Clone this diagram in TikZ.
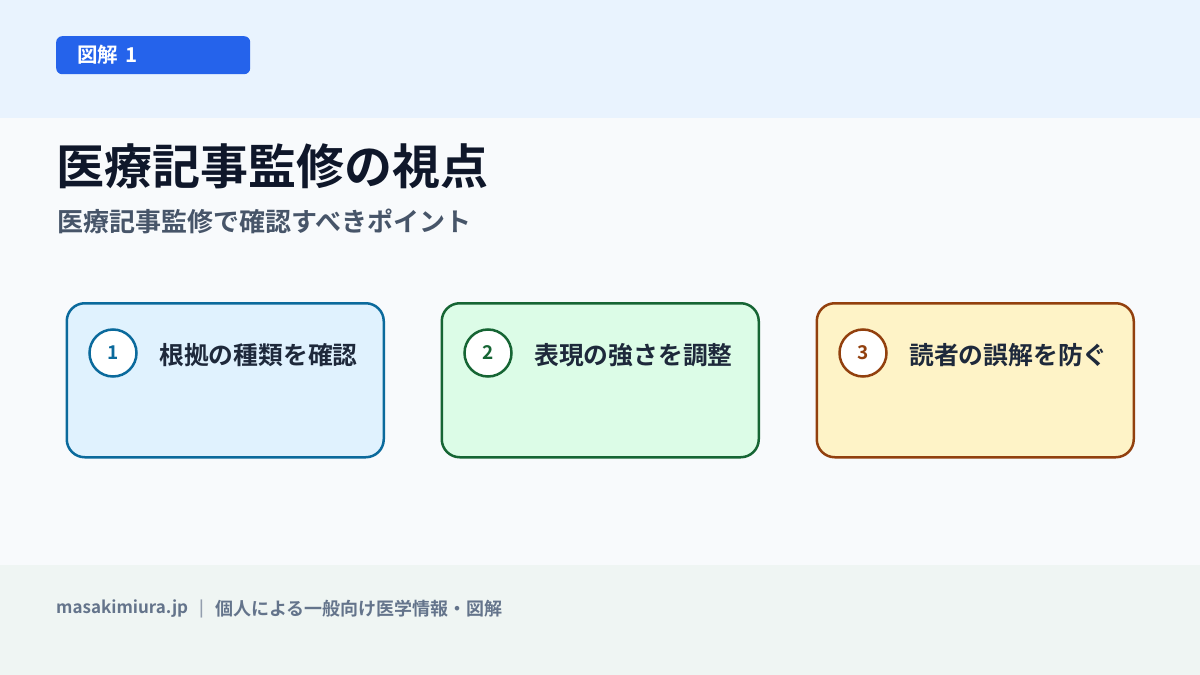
\documentclass[tikz,border=0pt]{standalone}
\usepackage{fontspec}
\setmainfont{Noto Sans CJK JP}[BoldFont={* Bold}]
\newfontfamily\jpb{Noto Sans CJK JP Bold}
\definecolor{topbg}{HTML}{E9F3FE}
\definecolor{mainbg}{HTML}{F8FAFC}
\definecolor{footbg}{HTML}{EFF5F3}
\definecolor{badge}{HTML}{2563EB}
\definecolor{titlec}{HTML}{0F172A}
\definecolor{subc}{HTML}{475569}
\definecolor{cardtext}{HTML}{1E293B}
\definecolor{footc}{HTML}{64748B}
\definecolor{fillA}{HTML}{E0F2FE}
\definecolor{drawA}{HTML}{0B6A9C}
\definecolor{fillB}{HTML}{DCFCE7}
\definecolor{drawB}{HTML}{166534}
\definecolor{fillC}{HTML}{FEF3C7}
\definecolor{drawC}{HTML}{92400E}
\tikzset{
  cardbox/.style={draw=#1, line width=2.5bp, rounded corners=18bp, inner sep=0pt, minimum width=317bp, minimum height=154bp, anchor=north west},
  numcirc/.style={circle, draw=#1, fill=white, line width=2.5bp, minimum size=47bp, inner sep=0pt, text=#1, font=\jpb\fontsize{19bp}{21bp}\selectfont},
  cardlabel/.style={anchor=west, inner sep=0pt, text=cardtext, font=\jpb\fontsize{24.8bp}{28bp}\selectfont},
}
\begin{document}
\begin{tikzpicture}[x=1bp,y=-1bp]
\useasboundingbox (0,0) rectangle (1200,675);
\fill[mainbg] (0,0) rectangle (1200,675);
\fill[topbg] (0,0) rectangle (1200,118);
\fill[footbg] (0,565) rectangle (1200,675);
% badge
\node[fill=badge, rounded corners=6bp, minimum width=194bp, minimum height=38bp, inner sep=0pt, anchor=north west] (badge) at (56,36) {};
\node[anchor=west, inner sep=0pt, text=white, font=\jpb\fontsize{20.5bp}{22bp}\selectfont] (badgetext) at (77,55) {図解\hspace{7bp}1};
% titles
\node[anchor=west, inner sep=0pt, text=titlec, font=\jpb\fontsize{48bp}{52bp}\selectfont] (title) at (56,166) {医療記事監修の視点};
\node[anchor=west, inner sep=0pt, text=subc, font=\jpb\fontsize{26bp}{28bp}\selectfont] (subtitle) at (57,221) {医療記事監修で確認すべきポイント};
% cards
\node[cardbox=drawA, fill=fillA] (card1) at (65.5,302) {};
\node[numcirc=drawA] (n1) at (113,353) {1};
\node[cardlabel] (t1) at (159,355) {根拠の種類を確認};
\node[cardbox=drawB, fill=fillB] (card2) at (440.5,302) {};
\node[numcirc=drawB] (n2) at (488,353) {2};
\node[cardlabel] (t2) at (534,355) {表現の強さを調整};
\node[cardbox=drawC, fill=fillC] (card3) at (815.5,302) {};
\node[numcirc=drawC] (n3) at (863,353) {3};
\node[cardlabel] (t3) at (909,355) {読者の誤解を防ぐ};
% footer
\node[anchor=west, inner sep=0pt, text=footc, font=\jpb\fontsize{17bp}{19bp}\selectfont] (site) at (56,609) {masakimiura.jp};
\node[anchor=west, inner sep=0pt, text=footc!70, font=\jpb\fontsize{16bp}{18bp}\selectfont] (sep) at (199,609) {|};
\node[anchor=west, inner sep=0pt, text=footc, font=\jpb\fontsize{18bp}{20bp}\selectfont] (foottext) at (215,609) {個人による一般向け医学情報・図解};
\end{tikzpicture}
\end{document}
